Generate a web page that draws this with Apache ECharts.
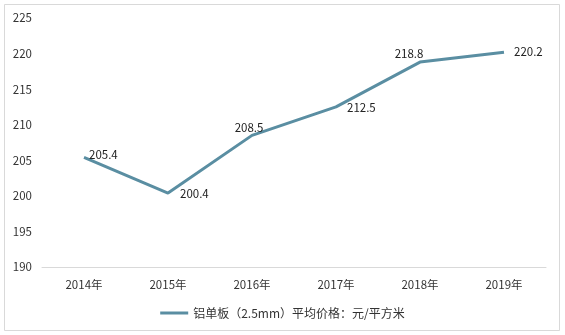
<!DOCTYPE html>
<html>
<head>
<meta charset="utf-8">
<script src="https://cdn.jsdelivr.net/npm/echarts@6/dist/echarts.min.js"></script>
<style>
  html, body { margin: 0; padding: 0; background: #fff; }
  #chart { width: 565px; height: 335px; }
</style>
</head>
<body>
<div id="chart"></div>
<script>
// Yearly average price of 2.5mm aluminium single panels
const years = ['2014年', '2015年', '2016年', '2017年', '2018年', '2019年'];
const prices = [205.4, 200.4, 208.5, 212.5, 218.8, 220.2];
const seriesName = '铝单板（2.5mm）平均价格：元/平方米';
const yTicks = { min: 190, max: 225, interval: 5 };

// where each value label sits relative to its point
const labelPlacement = [
  { position: 'right', offset: [0, -3] },
  { position: 'right', offset: [7, 1] },
  { position: 'top', offset: [-3, 3] },
  { position: 'right', offset: [6, 1] },
  { position: 'top', offset: [-11, 2] },
  { position: 'right', offset: [5, -1] }
];

const font = '"Noto Sans CJK SC", "Liberation Sans", sans-serif';
const chart = echarts.init(document.getElementById('chart'), null, { renderer: 'canvas' });

chart.setOption({
  animation: false,
  backgroundColor: '#ffffff',
  graphic: [{
    type: 'rect',
    shape: { x: 4.5, y: 4.5, width: 555, height: 326 },
    style: { fill: 'none', stroke: '#d9d9d9', lineWidth: 1 },
    silent: true
  }],
  grid: { left: 42, right: 19, top: 18, bottom: 68 },
  xAxis: {
    type: 'category',
    data: years,
    boundaryGap: true,
    axisLine: { show: true, lineStyle: { color: '#d9d9d9', width: 1 } },
    axisTick: { show: false },
    axisLabel: { color: '#333333', fontSize: 11.5, fontFamily: font, margin: 12 }
  },
  yAxis: {
    type: 'value',
    min: yTicks.min,
    max: yTicks.max,
    interval: yTicks.interval,
    axisLine: { show: false },
    axisTick: { show: false },
    splitLine: { show: false },
    axisLabel: { color: '#333333', fontSize: 11.5, fontFamily: font, margin: 10, align: 'right' }
  },
  legend: {
    bottom: 11,
    left: 'center',
    itemWidth: 28,
    itemHeight: 3,
    itemGap: 5,
    icon: 'rect',
    textStyle: { color: '#333333', fontSize: 12, fontFamily: font },
    data: [{ name: seriesName }]
  },
  series: [{
    name: seriesName,
    type: 'line',
    data: prices.map((v, i) => ({
      value: v,
      label: labelPlacement[i]
    })),
    symbol: 'circle',
    symbolSize: 0,
    showSymbol: true,
    lineStyle: { color: '#5a8ea2', width: 3 },
    itemStyle: { color: '#5a8ea2' },
    label: {
      show: true,
      color: '#222222',
      fontSize: 11.5,
      fontFamily: font,
      formatter: p => p.value.toFixed(1)
    }
  }]
});
</script>
</body>
</html>
